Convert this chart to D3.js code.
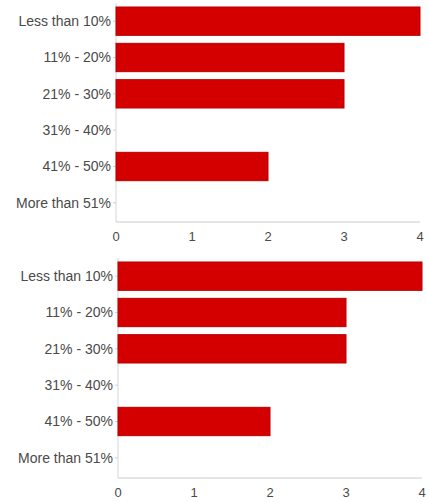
<!DOCTYPE html>
<html>
<head>
<meta charset="utf-8">
<script src="https://cdn.jsdelivr.net/npm/d3@7"></script>
<style>
  body { margin: 0; background: #fff; }
  text { font-family: "Liberation Sans", Arial, sans-serif; }
</style>
</head>
<body>
<div id="chart"></div>
<script>
// data
var categories = ["Less than 10%", "11% - 20%", "21% - 30%", "31% - 40%", "41% - 50%", "More than 51%"];
var topValues = [4, 3, 3, 0, 2, 0];
var bottomValues = [4, 3, 3, 0, 2, 0];
var xTicks = [0, 1, 2, 3, 4];

var width = 429, height = 502;

var svg = d3.select("#chart")
  .append("svg")
  .attr("width", width)
  .attr("height", height);

// draws one horizontal bar chart into a box
var drawChart = function(values, box) {
  var g = svg.append("g");

  var xScale = d3.scaleLinear()
    .domain([0, 4])
    .range([box.left, box.right]);

  var yScale = d3.scaleBand()
    .domain(categories)
    .range([box.top, box.bottom])
    .paddingInner(0.22)
    .paddingOuter(0.11);

  // left axis line + small ticks
  g.append("line")
    .attr("x1", box.left).attr("x2", box.left)
    .attr("y1", box.top).attr("y2", box.axisY)
    .attr("stroke", "#d6d6d6");

  g.selectAll(".ytick")
    .data(categories)
    .enter()
    .append("line")
    .attr("x1", box.left - 3).attr("x2", box.left)
    .attr("y1", function(d) { return yScale(d) + yScale.bandwidth() / 2; })
    .attr("y2", function(d) { return yScale(d) + yScale.bandwidth() / 2; })
    .attr("stroke", "#cfcfcf");

  g.selectAll(".ylabel")
    .data(categories)
    .enter()
    .append("text")
    .attr("x", box.left - 5)
    .attr("y", function(d) { return yScale(d) + yScale.bandwidth() / 2; })
    .attr("dy", "0.35em")
    .attr("text-anchor", "end")
    .attr("font-size", 14)
    .attr("fill", "#4a4a4a")
    .text(function(d) { return d; });

  // bars
  g.selectAll(".bar")
    .data(values)
    .enter()
    .append("rect")
    .attr("x", xScale(0))
    .attr("y", function(d, i) { return yScale(categories[i]); })
    .attr("width", function(d) { return xScale(d) - xScale(0); })
    .attr("height", yScale.bandwidth())
    .attr("fill", "#d40000")
    .attr("stroke", "#b80000")
    .attr("stroke-width", 1);

  // bottom axis
  g.append("line")
    .attr("x1", box.left).attr("x2", box.right)
    .attr("y1", box.axisY).attr("y2", box.axisY)
    .attr("stroke", "#cccccc");

  g.selectAll(".xlabel")
    .data(xTicks)
    .enter()
    .append("text")
    .attr("x", function(d) { return xScale(d); })
    .attr("y", box.axisY + 14)
    .attr("dy", "0.35em")
    .attr("text-anchor", "middle")
    .attr("font-size", 13)
    .attr("fill", "#4a4a4a")
    .text(function(d) { return d; });
};

drawChart(topValues, { left: 116, right: 420, top: 3, bottom: 221, axisY: 222 });
drawChart(bottomValues, { left: 118, right: 422, top: 258, bottom: 476, axisY: 478 });
</script>
</body>
</html>
